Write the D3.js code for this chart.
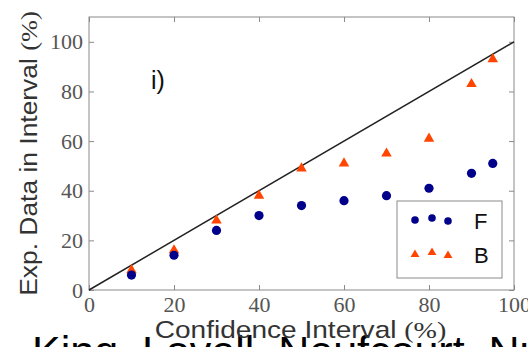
<!DOCTYPE html>
<html>
<head>
<meta charset="utf-8">
<script src="https://cdn.jsdelivr.net/npm/d3@7"></script>
<style>
  html, body { margin: 0; padding: 0; background: #fff; overflow: hidden; }
  svg { display: block; }
</style>
</head>
<body>
<svg id="chart" width="528" height="347"></svg>
<script>
// Confidence intervals probed
const intervals = [10, 20, 30, 40, 50, 60, 70, 80, 90, 95];
// Percentage of experimental data inside each interval
const frequentist = [6, 14, 24, 30, 34, 36, 38, 41, 47, 51];   // F
const bayesian = [8, 16, 28, 38, 49, 51, 55, 61, 83, 93];      // B
// Ideal coverage line
const idealX = [0, 100];
const tickValues = [0, 20, 40, 60, 80, 100];
const seriesNames = ["F", "B"];
// Legend handle vertical offsets (fraction of handle height), three points per entry
const legendYOffsets = [0.375, 0.5, 0.3125];

const svg = d3.select("#chart");
const plot = { left: 89, right: 514, top: 17, bottom: 290 };

const x = d3.scaleLinear().domain([0, 100]).range([plot.left, plot.right]);
const y = d3.scaleLinear().domain([0, 110]).range([plot.bottom, plot.top]);

const serif = "'Liberation Serif', 'Times New Roman', serif";
const sans = "'Liberation Sans', Arial, Helvetica, sans-serif";
const navy = "#00008b";
const orange = "#ff4500";

// Byline running off the bottom edge
svg.append("text")
  .attr("transform", "translate(32,366)")
  .attr("font-family", sans).attr("font-size", 43)
  .attr("fill", "#000")
  .text("King, Lovell, Neufcourt, Nunes");

// Frame
svg.append("rect")
  .attr("x", plot.left).attr("y", plot.top)
  .attr("width", plot.right - plot.left).attr("height", plot.bottom - plot.top)
  .attr("fill", "none").attr("stroke", "#8a8a8a").attr("stroke-width", 1);

function styleAxis(g, showLabels) {
  g.select(".domain").remove();
  g.selectAll(".tick line").attr("stroke", "#8a8a8a").attr("stroke-width", 1);
  g.selectAll(".tick text")
    .attr("font-family", serif).attr("font-size", 22).attr("fill", "#555");
  if (!showLabels) g.selectAll(".tick text").remove();
}

// Inward ticks on all four sides
svg.append("g").attr("transform", `translate(0,${plot.bottom})`)
  .call(d3.axisBottom(x).tickValues(tickValues).tickSize(-5).tickPadding(6).tickFormat(d3.format("d")))
  .call(g => styleAxis(g, true));
svg.append("g").attr("transform", `translate(0,${plot.top})`)
  .call(d3.axisTop(x).tickValues(tickValues).tickSize(-5))
  .call(g => styleAxis(g, false));
svg.append("g").attr("transform", `translate(${plot.left},0)`)
  .call(d3.axisLeft(y).tickValues(tickValues).tickSize(-5).tickPadding(6).tickFormat(d3.format("d")))
  .call(g => styleAxis(g, true));
svg.append("g").attr("transform", `translate(${plot.right},0)`)
  .call(d3.axisRight(y).tickValues(tickValues).tickSize(-5))
  .call(g => styleAxis(g, false));

// Ideal coverage diagonal
svg.append("path")
  .datum(idealX)
  .attr("d", d3.line().x(d => x(d)).y(d => y(d)))
  .attr("fill", "none").attr("stroke", "#222").attr("stroke-width", 1.5);

const tri = d3.symbol().type(d3.symbolTriangle);

// B series (triangles)
svg.append("g").selectAll("path")
  .data(intervals.map((v, i) => [v, bayesian[i]]))
  .join("path")
  .attr("transform", d => `translate(${x(d[0])},${y(d[1])})`)
  .attr("d", tri.size(48)())
  .attr("fill", orange);

// F series (circles)
svg.append("g").selectAll("circle")
  .data(intervals.map((v, i) => [v, frequentist[i]]))
  .join("circle")
  .attr("cx", d => x(d[0])).attr("cy", d => y(d[1]))
  .attr("r", 4.6)
  .attr("fill", navy);

// Panel tag
svg.append("text")
  .attr("x", 151).attr("y", 89)
  .attr("font-family", sans).attr("font-size", 25).attr("fill", "#111")
  .text("i)");

// Legend
const lg = svg.append("g");
lg.append("rect")
  .attr("x", 397).attr("y", 201).attr("width", 105).attr("height", 77)
  .attr("fill", "#fff").attr("stroke", "#8a8a8a").attr("stroke-width", 1);
const handleX = [415, 432, 448];
seriesNames.forEach((name, k) => {
  const rowTop = 212 + k * 34.5;
  const rowH = 16;
  legendYOffsets.forEach((off, j) => {
    const cy = rowTop + rowH * (1 - off) - 2;
    if (k === 0) {
      lg.append("circle").attr("cx", handleX[j]).attr("cy", cy).attr("r", 3.8).attr("fill", navy);
    } else {
      lg.append("path").attr("transform", `translate(${handleX[j]},${cy})`)
        .attr("d", tri.size(34)()).attr("fill", orange);
    }
  });
  lg.append("text")
    .attr("x", 474).attr("y", 229 + k * 34)
    .attr("font-family", sans).attr("font-size", 22).attr("fill", "#111")
    .text(name);
});

// Axis titles
const xt = svg.append("text")
  .attr("transform", `translate(${(plot.left + plot.right) / 2 - 1},338) scale(1.17,1)`)
  .attr("text-anchor", "middle")
  .attr("font-family", sans).attr("font-size", 24).attr("fill", "#333");
xt.append("tspan").text("Confidence Interval ");
xt.append("tspan").attr("font-family", serif).text("(%)");

const yt = svg.append("text")
  .attr("transform", `translate(37,${(plot.top + plot.bottom) / 2}) rotate(-90) scale(1.1,1)`)
  .attr("text-anchor", "middle")
  .attr("font-family", sans).attr("font-size", 24).attr("fill", "#333");
yt.append("tspan").text("Exp. Data in Interval ");
yt.append("tspan").attr("font-family", serif).text("(%)");
</script>
</body>
</html>
